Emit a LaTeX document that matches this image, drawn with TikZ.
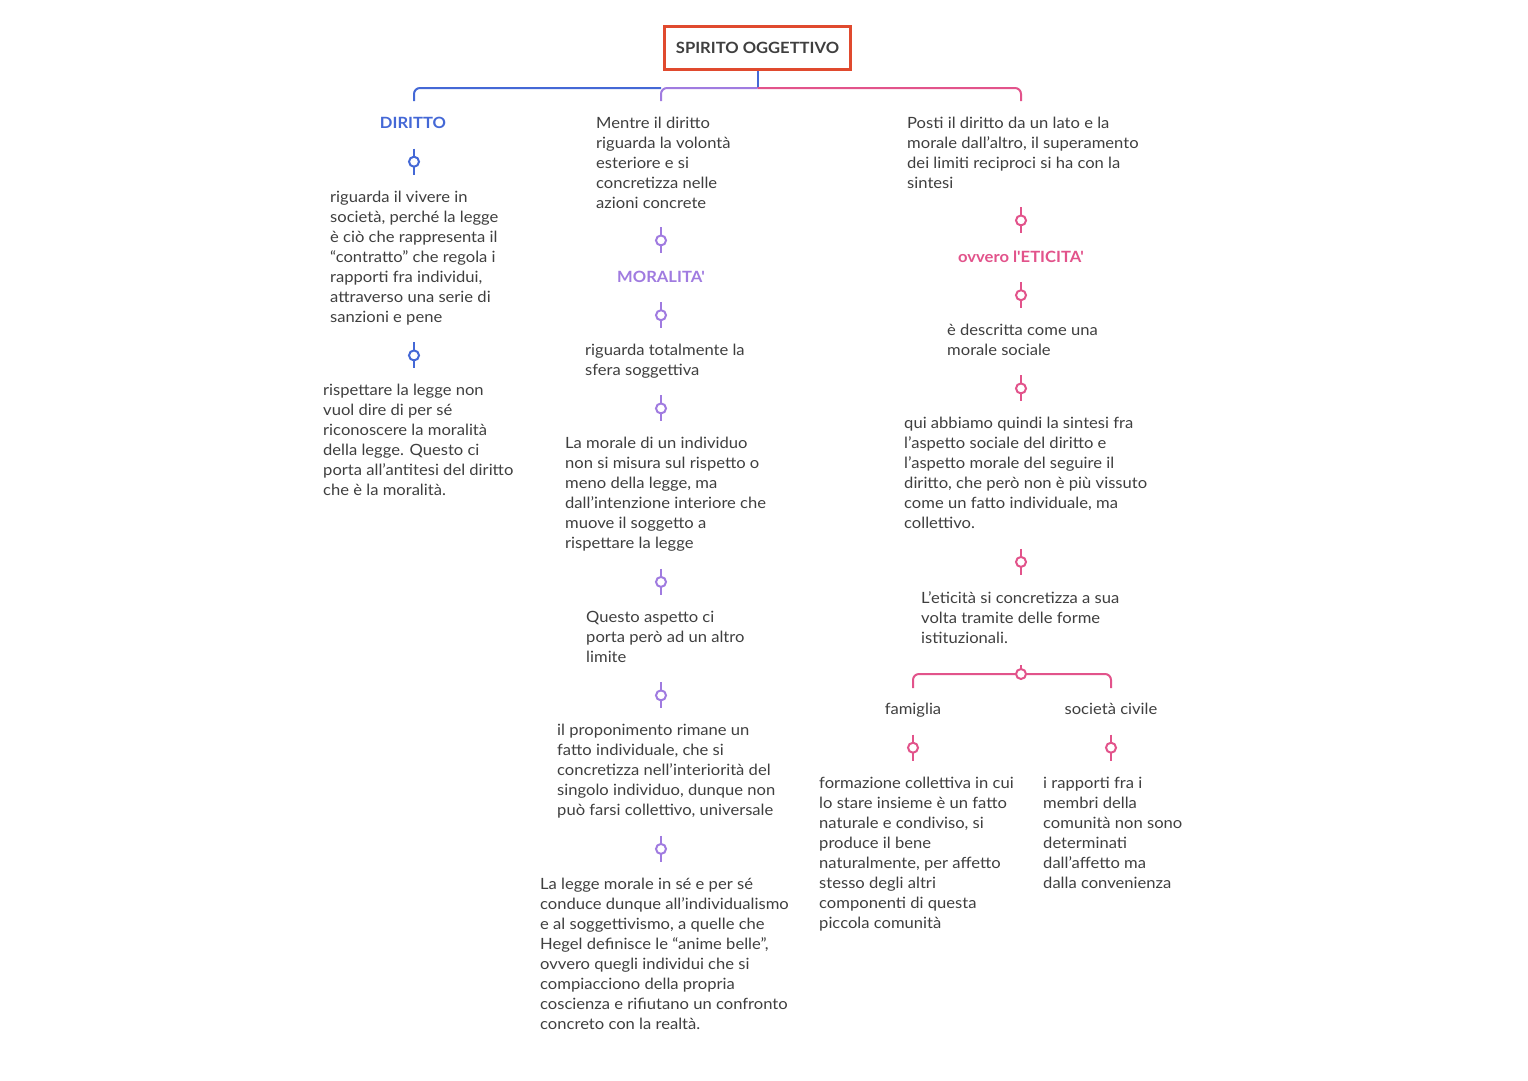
\documentclass[tikz,border=0pt]{standalone}
\usepackage{fontspec}
\setmainfont{Lato}[Ligatures=TeXOff, FakeStretch=1.07]
\usetikzlibrary{calc}
\definecolor{cblue}{HTML}{4468D6}
\definecolor{cpurple}{HTML}{A07BE0}
\definecolor{cpink}{HTML}{E2538B}
\definecolor{cred}{HTML}{E04A2E}
\definecolor{ctext}{HTML}{3F3F3F}
\tikzset{
  txt/.style={anchor=north west, inner sep=0pt, align=left, text=ctext,
    font=\fontsize{15.5}{20}\selectfont,
    execute at begin node={\strut}, execute at end node={\strut}},
  lbl/.style={anchor=north, inner sep=0pt, font=\fontsize{15.5}{20}\selectfont\bfseries,
    execute at begin node={\strut}, execute at end node={\strut}},
  plain/.style={anchor=north, inner sep=0pt, text=ctext, font=\fontsize{15.5}{20}\selectfont,
    execute at begin node={\strut}, execute at end node={\strut}},
  ring/.style={circle, draw, fill=white, minimum size=10pt, inner sep=0pt, line width=2pt},
  ln/.style={line width=2pt},
  stem/.style={to path={($(\tikztostart)!.5!(\tikztotarget)$) ++(0,-14) -- ++(0,26) node[midway,ring]{}}},
}
\begin{document}
\begin{tikzpicture}[x=1pt,y=-1pt]
\useasboundingbox[fill=white] (0,0) rectangle (1528,1080);
% root
\node[draw=cred, line width=2.5pt, minimum width=186pt, minimum height=43pt, inner sep=0pt,
  font=\fontsize{15.5}{20}\selectfont\bfseries, text=ctext] (root) at (757.5,48) {SPIRITO OGGETTIVO};
\coordinate (j) at (757.5,88);
\coordinate (cA) at (414,0);
\coordinate (cB) at (661,0);
\coordinate (cC) at (1021,0);
\coordinate (cF) at (913,0);
\coordinate (cS) at (1111,0);

% left column
\node[lbl, text=cblue] (dir) at (413,114) {DIRITTO};
\node[txt] (a1) at (330,191) {riguarda il vivere in\\società, perché la legge\\è ciò che rappresenta il\\“contratto” che regola i\\rapporti fra individui,\\attraverso una serie di\\sanzioni e pene};
\node[txt] (a2) at (323,384) {rispettare la legge non\\vuol dire di per sé\\riconoscere la moralità\\della legge. Questo ci\\porta all’antitesi del diritto\\che è la moralità.};

% middle column
\node[txt] (m0) at (596,117) {Mentre il diritto\\riguarda la volontà\\esteriore e si\\concretizza nelle\\azioni concrete};
\node[lbl, text=cpurple] (mor) at (661,268) {MORALITA'};
\node[txt] (m1) at (585,344) {riguarda totalmente la\\sfera soggettiva};
\node[txt] (m2) at (565,437) {La morale di un individuo\\non si misura sul rispetto o\\meno della legge, ma\\dall’intenzione interiore che\\muove il soggetto a\\rispettare la legge};
\node[txt] (m3) at (586,611) {Questo aspetto ci\\porta però ad un altro\\limite};
\node[txt] (m4) at (557,724) {il proponimento rimane un\\fatto individuale, che si\\concretizza nell’interiorità del\\singolo individuo, dunque non\\può farsi collettivo, universale};
\node[txt] (m5) at (540,878) {La legge morale in sé e per sé\\conduce dunque all’individualismo\\e al soggettivismo, a quelle che\\Hegel definisce le “anime belle”,\\ovvero quegli individui che si\\compiacciono della propria\\coscienza e rifiutano un confronto\\concreto con la realtà.};

% right column
\node[txt] (p0) at (907,117) {Posti il diritto da un lato e la\\morale dall’altro, il superamento\\dei limiti reciproci si ha con la\\sintesi};
\node[lbl, text=cpink] (eti) at (1021,248) {ovvero l'ETICITA'};
\node[txt] (p1) at (947,324) {è descritta come una\\morale sociale};
\node[txt] (p2) at (904,417) {qui abbiamo quindi la sintesi fra\\l’aspetto sociale del diritto e\\l’aspetto morale del seguire il\\diritto, che però non è più vissuto\\come un fatto individuale, ma\\collettivo.};
\node[txt] (p3) at (921,591) {L’eticità si concretizza a sua\\volta tramite delle forme\\istituzionali.};
\node[plain] (fam) at (913,700) {famiglia};
\node[plain] (soc) at (1111,700) {società civile};
\node[txt] (f1) at (819,777) {formazione collettiva in cui\\lo stare insieme è un fatto\\naturale e condiviso, si\\produce il bene\\naturalmente, per affetto\\stesso degli altri\\componenti di questa\\piccola comunità};
\node[txt] (s1) at (1043,777) {i rapporti fra i\\membri della\\comunità non sono\\determinati\\dall’affetto ma\\dalla convenienza};

% top bracket
\draw[ln, cblue] (root.south) -- (j);
\draw[ln, cblue, rounded corners=6pt, shorten >=13pt] (cB |- j) -| (dir.north -| cA);
\draw[ln, cpurple, rounded corners=6pt, shorten >=16pt] (j) -| (m0.north -| cB);
\draw[ln, cpink, rounded corners=6pt, shorten >=16pt] (j) -| (p0.north -| cC);

% stems left
\draw[ln, cblue] (dir.south -| cA) to[stem] (a1.north -| cA);
\draw[ln, cblue] (a1.south -| cA) to[stem] (a2.north -| cA);
% stems middle
\draw[ln, cpurple] (m0.south -| cB) to[stem] (mor.north -| cB);
\draw[ln, cpurple] (mor.south -| cB) to[stem] (m1.north -| cB);
\draw[ln, cpurple] (m1.south -| cB) to[stem] (m2.north -| cB);
\draw[ln, cpurple] (m2.south -| cB) to[stem] (m3.north -| cB);
\draw[ln, cpurple] (m3.south -| cB) to[stem] (m4.north -| cB);
\draw[ln, cpurple] (m4.south -| cB) to[stem] (m5.north -| cB);
% stems right
\draw[ln, cpink] (p0.south -| cC) to[stem] (eti.north -| cC);
\draw[ln, cpink] (eti.south -| cC) to[stem] (p1.north -| cC);
\draw[ln, cpink] (p1.south -| cC) to[stem] (p2.north -| cC);
\draw[ln, cpink] (p2.south -| cC) to[stem] (p3.north -| cC);
\draw[ln, cpink] (fam.south -| cF) to[stem] (f1.north -| cF);
\draw[ln, cpink] (soc.south -| cS) to[stem] (s1.north -| cS);

% bottom bracket
\coordinate (k) at (1021,674);
\draw[ln, cpink, shorten <=16pt] (p3.south -| cC) -- (k);
\draw[ln, cpink, rounded corners=6pt, shorten >=12pt] (k) -| (fam.north -| cF);
\draw[ln, cpink, rounded corners=6pt, shorten >=12pt] (k) -| (soc.north -| cS);
\node[ring, draw=cpink] (kr) at (k) {};
\end{tikzpicture}
\end{document}
